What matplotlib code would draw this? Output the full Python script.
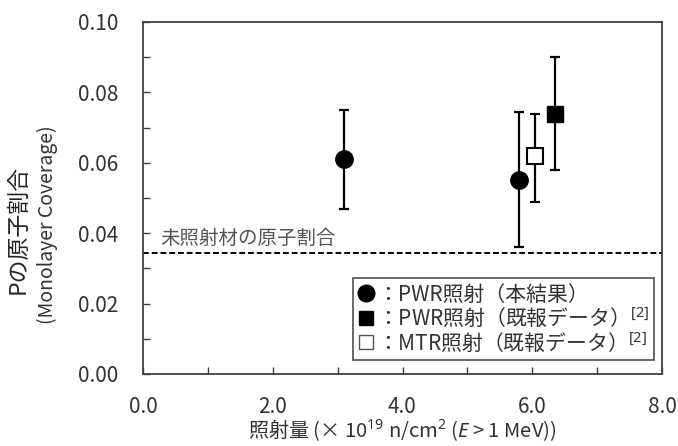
import matplotlib
matplotlib.use("Agg")
import matplotlib.pyplot as plt
from matplotlib.lines import Line2D

plt.rcParams['font.family'] = ['Noto Sans CJK JP', 'DejaVu Sans']
plt.rcParams['mathtext.fontset'] = 'custom'
plt.rcParams['mathtext.rm'] = 'Noto Sans'
plt.rcParams['mathtext.it'] = 'Noto Sans:italic'

# Data
pwr_x = [3.1, 5.8]
pwr_y = [0.061, 0.055]
pwr_lo = [0.047, 0.036]
pwr_hi = [0.075, 0.0745]

pwr_prev_x = [6.35]
pwr_prev_y = [0.074]
pwr_prev_lo = [0.058]
pwr_prev_hi = [0.090]

mtr_x = [6.05]
mtr_y = [0.062]
mtr_lo = [0.049]
mtr_hi = [0.074]

unirr = 0.0345

TXT = '#333333'
AX = '#404040'

fig = plt.figure(figsize=(6.78, 4.46), dpi=100)
ax = fig.add_axes([143/678, 1-374/446, 519/678, 352/446])

def err(y, lo, hi):
    return [[a - b for a, b in zip(y, lo)], [b - a for a, b in zip(y, hi)]]

ekw = dict(ecolor='black', elinewidth=1.6, capsize=3.5, capthick=1.6, linestyle='none', zorder=3)
ax.errorbar(pwr_x, pwr_y, yerr=err(pwr_y, pwr_lo, pwr_hi), marker='o', ms=12.5,
            mfc='black', mec='black', **ekw)
ax.errorbar(pwr_prev_x, pwr_prev_y, yerr=err(pwr_prev_y, pwr_prev_lo, pwr_prev_hi), marker='s', ms=11.5,
            mfc='black', mec='black', **ekw)
ax.errorbar(mtr_x, mtr_y, yerr=err(mtr_y, mtr_lo, mtr_hi), marker='s', ms=11.5,
            mfc='white', mec='black', mew=1.5, **ekw)

ax.axhline(unirr, color='black', linestyle=(0, (3, 1.5)), linewidth=1.4, zorder=2)
ax.text(0.26, unirr + 0.001, '未照射材の原子割合', fontsize=14, color='#555555', va='bottom', ha='left')

ax.set_xlim(0, 8)
ax.set_ylim(0, 0.10)
ax.set_xticks([0, 2, 4, 6, 8])
ax.set_xticklabels(['0.0', '2.0', '4.0', '6.0', '8.0'])
ax.set_xticks([1, 3, 5, 7], minor=True)
ax.set_yticks([0, 0.02, 0.04, 0.06, 0.08, 0.10])
ax.set_yticklabels(['0.00', '0.02', '0.04', '0.06', '0.08', '0.10'])
ax.set_yticks([0.01, 0.03, 0.05, 0.07, 0.09], minor=True)
ax.tick_params(axis='both', which='both', direction='in', labelsize=15, colors=AX, labelcolor=TXT)
ax.tick_params(axis='y', which='major', length=5, width=1, pad=18)
ax.tick_params(axis='x', which='major', length=5, width=1, pad=16)
ax.tick_params(axis='both', which='minor', length=5, width=1)
for s in ax.spines.values():
    s.set_linewidth(1.3)
    s.set_color(AX)

# Y axis label (two lines)
fig.text(18/678, 1-229/446, 'Pの原子割合', fontsize=16.5, color='#262626', rotation=90,
         ha='center', va='center')
fig.text(47/678, 1-225/446, '(Monolayer Coverage)', fontsize=14, color=TXT, rotation=90,
         ha='center', va='center')
ax.set_xlabel('照射量 (× 10$^{19}$ n/cm$^{2}$ ($E$ > 1 MeV))', fontsize=14.5, color=TXT, labelpad=-1)

handles = [
    Line2D([], [], marker='o', ms=12, mfc='black', mec='black', linestyle='none'),
    Line2D([], [], marker='s', ms=10.5, mfc='black', mec='black', linestyle='none'),
    Line2D([], [], marker='s', ms=10.5, mfc='white', mec='#555555', mew=1, linestyle='none'),
]
labels = ['：PWR照射（本結果）', '：PWR照射（既報データ）$^{[2]}$', '：MTR照射（既報データ）$^{[2]}$']
leg = ax.legend(handles, labels, loc='lower right', bbox_to_anchor=(0.985, 0.04), borderaxespad=0,
                fontsize=15, frameon=True, fancybox=False, edgecolor='#333333', handlelength=0.8,
                handletextpad=0.1, borderpad=0.25, labelspacing=0.0)
leg.get_frame().set_linewidth(1.3)
for t in leg.get_texts():
    t.set_color(TXT)

fig.savefig('out.png', dpi=100)
